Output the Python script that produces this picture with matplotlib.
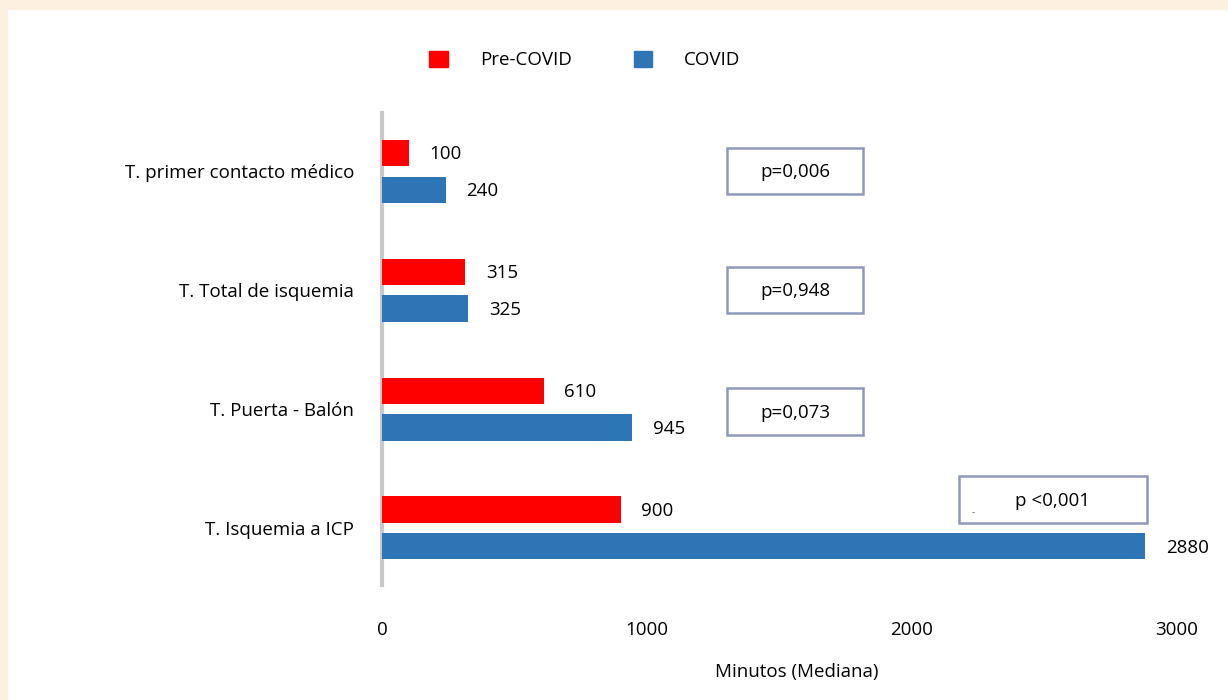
import matplotlib
matplotlib.use("Agg")
import matplotlib.pyplot as plt
from matplotlib.patches import Rectangle

categories = ["T. primer contacto médico", "T. Total de isquemia", "T. Puerta - Balón", "T. Isquemia a ICP"]
pre_covid = [100, 315, 610, 900]
covid = [240, 325, 945, 2880]
p_labels = ["p=0,006", "p=0,948", "p=0,073", "p <0,001"]
series_names = ["Pre-COVID", "COVID"]
xticks = [0, 1000, 2000, 3000]

RED = "#ff0000"
BLUE = "#2e75b6"
FONT = ["Open Sans", "DejaVu Sans"]
plt.rcParams["font.family"] = FONT
FS = 13.5

fig = plt.figure(figsize=(12.28, 7.0), dpi=100)
fig.patch.set_facecolor("#fdf0e1")
bg = fig.add_axes([8/1228, 0, 1 - 8/1228, 1 - 10/700], zorder=-10)
bg.set_facecolor("white")
bg.set_xticks([]); bg.set_yticks([])
for s in bg.spines.values():
    s.set_visible(False)

ax = fig.add_axes([382/1228, (700-585)/700, 795/1228, 472/700])
ax.set_facecolor("none")

h = 0.22
off = 0.155
ys = list(range(len(categories)))
ax.barh([y - off for y in ys], pre_covid, height=h, color=RED, zorder=3)
ax.barh([y + off for y in ys], covid, height=h, color=BLUE, zorder=3)

for y, v in zip(ys, pre_covid):
    ax.annotate(str(v), (v, y - off), xytext=(15, -1), textcoords="offset points",
                ha="left", va="center", fontsize=FS, color="black")
for y, v in zip(ys, covid):
    ax.annotate(str(v), (v, y + off), xytext=(15, -1), textcoords="offset points",
                ha="left", va="center", fontsize=FS, color="black")

ax.set_xlim(0, 3000)
ax.set_ylim(3.48, -0.49)
ax.set_yticks(ys)
ax.set_yticklabels(categories, fontsize=FS)
ax.set_xticks(xticks)
ax.set_xticklabels([str(t) for t in xticks], fontsize=FS)
ax.tick_params(axis="y", length=0, pad=20)
ax.tick_params(axis="x", length=0, pad=26)
for s in ["top", "right", "bottom"]:
    ax.spines[s].set_visible(False)
ax.spines["left"].set_color("#c8c8c8")
ax.spines["left"].set_linewidth(3)
ax.set_xlabel("Minutos (Mediana)", fontsize=FS, labelpad=18)
ax.xaxis.set_label_coords(0.522, -0.185)
ax.xaxis.label.set_va("center")

# p-value boxes: (x0, x1, yc)
boxes = [(1302, 1815, 0.0), (1302, 1815, 1.0), (1302, 1815, 2.02), (2177, 2887, 2.76)]
bh = 0.39
for (x0, x1, yc), lab in zip(boxes, p_labels):
    r = Rectangle((x0, yc - bh/2), x1 - x0, bh, facecolor="white", edgecolor="#8d99b8",
                  linewidth=1.8, zorder=4)
    ax.add_patch(r)
    ax.text((x0 + x1)/2, yc + 0.01, lab, ha="center", va="center", fontsize=FS, zorder=5)
ax.text(2230, 2.87, "-", ha="center", va="center", fontsize=7, color="#666666", zorder=5)

# legend
handles = [Rectangle((0, 0), 1, 1, color=RED), Rectangle((0, 0), 1, 1, color=BLUE)]
fig.legend(handles, series_names, loc="center", bbox_to_anchor=(585/1228, 1 - 60/700),
           ncol=2, frameon=False, fontsize=FS, handlelength=1.0, handleheight=1.0,
           handletextpad=1.7, columnspacing=3.3)

fig.savefig("out.png", dpi=100, facecolor=fig.get_facecolor())
